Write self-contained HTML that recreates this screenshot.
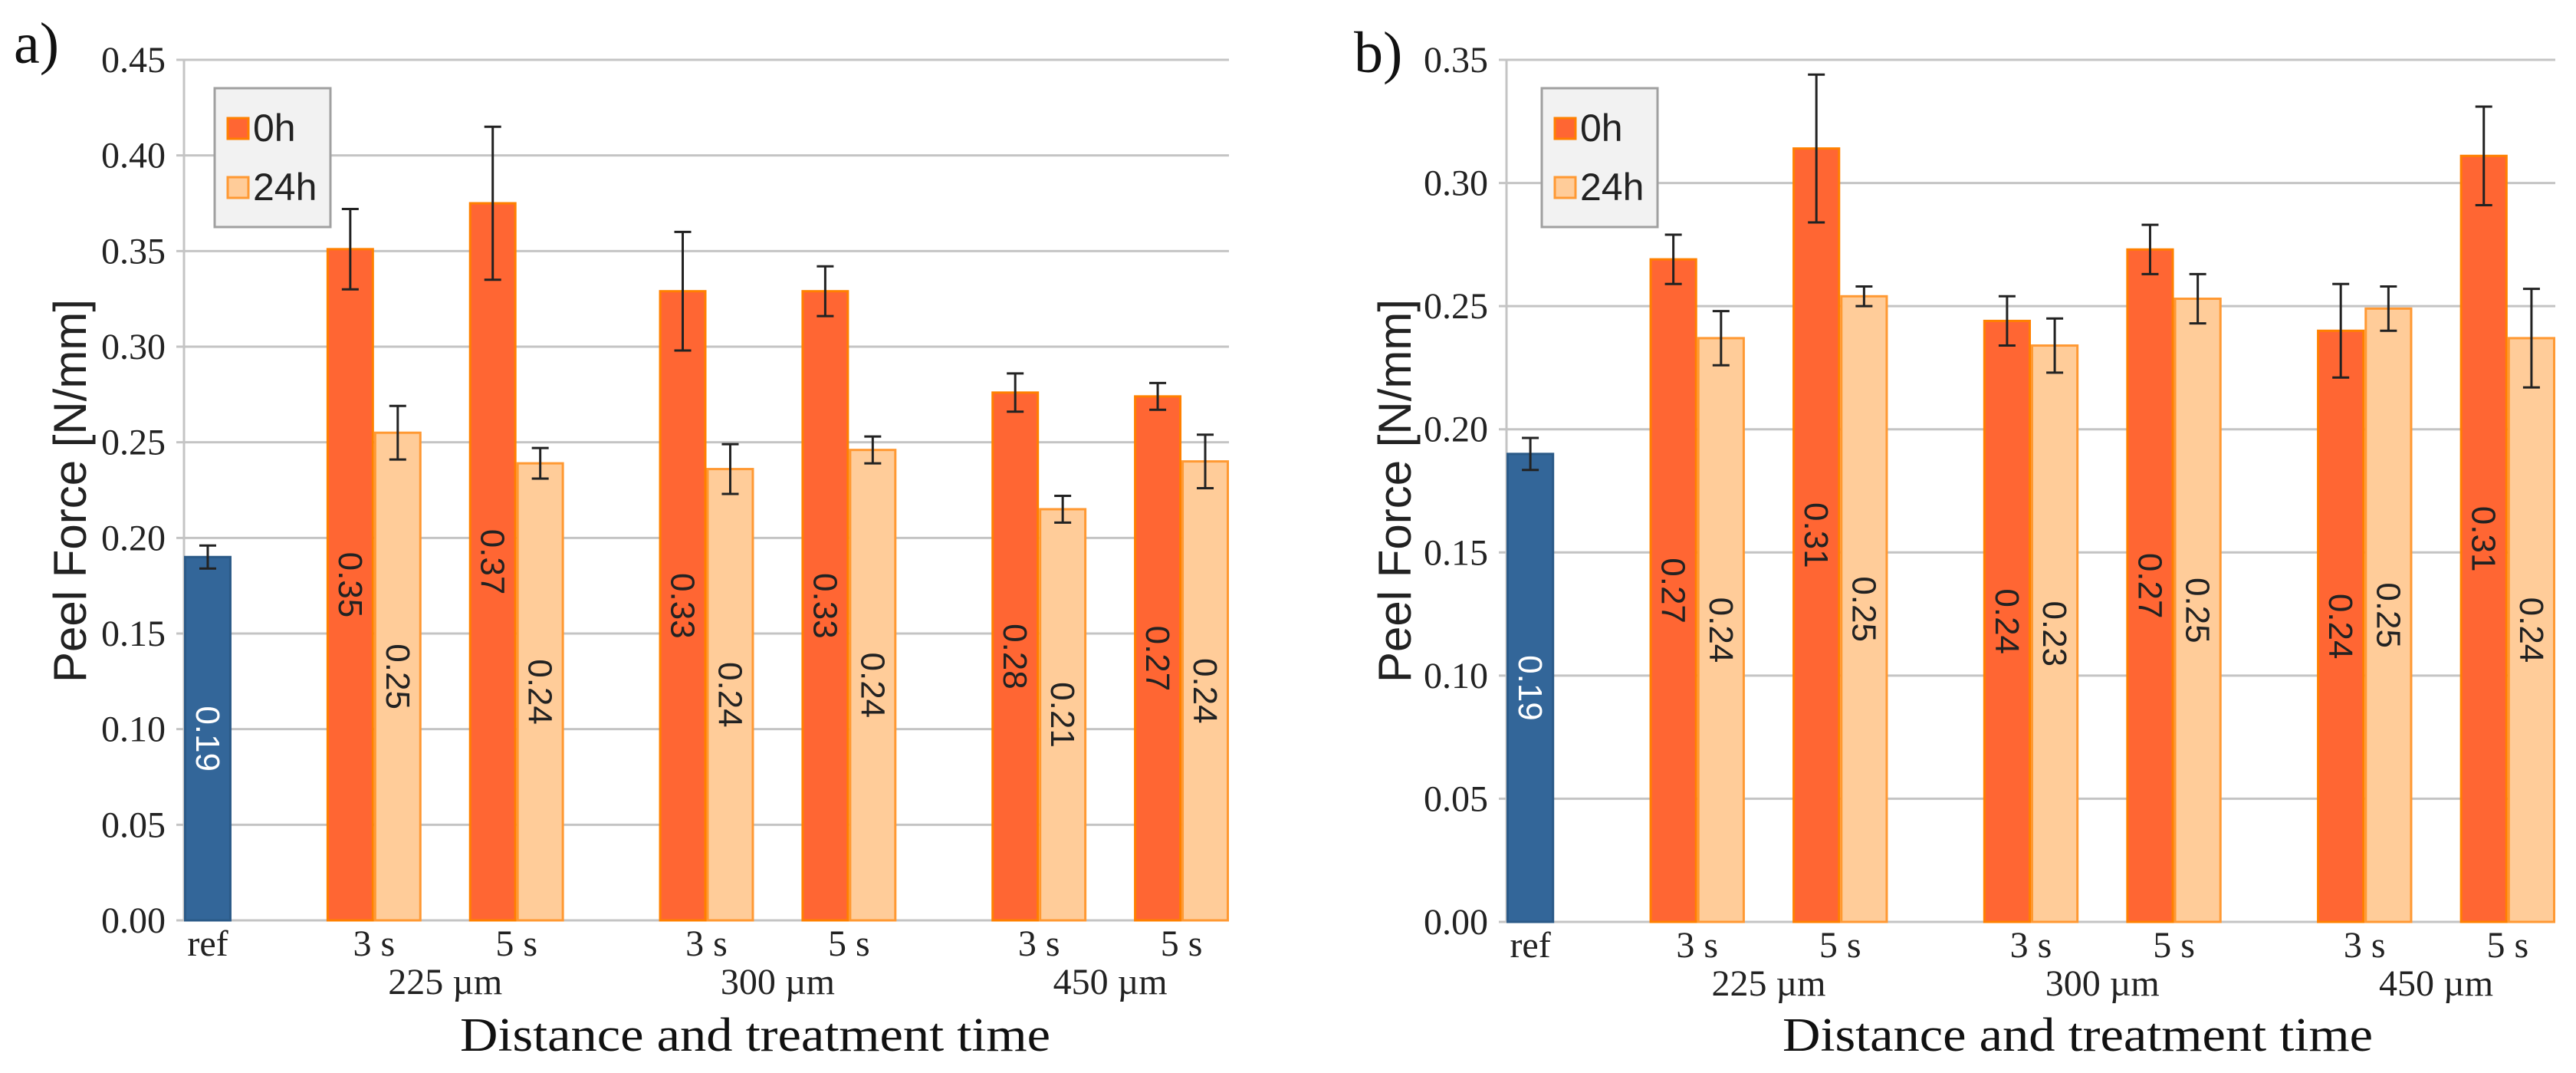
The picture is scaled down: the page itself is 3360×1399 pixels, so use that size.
<!DOCTYPE html>
<html><head><meta charset="utf-8"><style>
html,body{margin:0;padding:0;background:#fff;}
svg{display:block;}
.tick{font-family:"Liberation Serif",serif;font-size:48px;fill:#222;}
.sans{font-family:"Liberation Sans",sans-serif;}
</style></head><body>
<svg id="fig" width="3360" height="1399" viewBox="0 0 3360 1399" xmlns="http://www.w3.org/2000/svg">
<text x="18" y="82" font-family="Liberation Serif,serif" font-size="76" fill="#111">a)</text>
<text x="1766" y="94" font-family="Liberation Serif,serif" font-size="76" fill="#111">b)</text>
</svg>
<script>
const categories = ["ref","225-3s","225-5s","300-3s","300-5s","450-3s","450-5s"];
const tickLabels = ["ref","3 s","5 s","3 s","5 s","3 s","5 s"];
const groupLabels = ["225 µm","300 µm","450 µm"];
const aRef = [0.19], aRefErr = [0.006];
const a0h = [0.351,0.375,0.329,0.329,0.276,0.274];
const a0hErr = [0.021,0.040,0.031,0.013,0.010,0.007];
const a24h = [0.255,0.239,0.236,0.246,0.215,0.240];
const a24hErr = [0.014,0.008,0.013,0.007,0.007,0.014];
const aLabels0h = ["0.35","0.37","0.33","0.33","0.28","0.27"];
const aLabels24h = ["0.25","0.24","0.24","0.24","0.21","0.24"];
const aTicks = ["0.00","0.05","0.10","0.15","0.20","0.25","0.30","0.35","0.40","0.45"];
const bRef = [0.19], bRefErr = [0.0065];
const b0h = [0.269,0.314,0.244,0.273,0.240,0.311];
const b0hErr = [0.010,0.030,0.010,0.010,0.019,0.020];
const b24h = [0.237,0.254,0.234,0.253,0.249,0.237];
const b24hErr = [0.011,0.004,0.011,0.010,0.009,0.020];
const bLabels0h = ["0.27","0.31","0.24","0.27","0.24","0.31"];
const bLabels24h = ["0.24","0.25","0.23","0.25","0.25","0.24"];
const bTicks = ["0.00","0.05","0.10","0.15","0.20","0.25","0.30","0.35"];

const NS="http://www.w3.org/2000/svg";
const svg=document.getElementById('fig');
function mk(tag,attrs,parent){const e=document.createElementNS(NS,tag);for(const k in attrs)e.setAttribute(k,attrs[k]);(parent||svg).appendChild(e);return e;}

function chart(o){
  const g=mk('g',{});
  
  
  const x0=o.x0,x1=o.x1,yb=o.yb,yt=o.yt,max=o.max;
  const slot=(x1-x0)/22;
  const Y=v=>yb-(v/max)*(yb-yt);
  const X=s=>x0+s*slot;
  const nt=o.ticks.length;
  for(let i=0;i<nt;i++){
    const v=parseFloat(o.ticks[i]);
    const l=mk('line',{x1:x0-10,x2:x1,y1:Y(v),y2:Y(v),stroke:'#c4c4c4','stroke-width':3},g);
    
    
    const t=mk('text',{x:x0-24,y:Y(v)+16,'text-anchor':'end',class:'tick'},g);
    t.textContent=o.ticks[i];
    
    
  }
  const ax=mk('line',{x1:x0,x2:x0,y1:yt,y2:yb,stroke:'#c4c4c4','stroke-width':3},g);
  
  
  const slots0h=[3,6,10,13,17,20];
  function bar(s,v,err,fill,stroke,label,lc,nm){
    const b=mk('rect',{x:X(s)+1.5,y:Y(v),width:slot-3,height:yb-Y(v),fill:fill,stroke:stroke,'stroke-width':3},g);
    
    
    const cx=X(s)+slot/2;
    const e=mk('path',{d:`M${cx},${Y(v+err)}V${Y(v-err)}M${cx-11},${Y(v+err)}H${cx+11}M${cx-11},${Y(v-err)}H${cx+11}`,stroke:'#222','stroke-width':3,fill:'none'},g);
    
    
    const my=Y(v/2);
    const t=mk('text',{x:0,y:0,transform:`translate(${cx-15},${my}) rotate(90)`,'text-anchor':'middle',class:'sans','font-size':44,fill:lc},g);
    t.textContent=label;
    
    
  }
  bar(0,o.ref[0],o.refErr[0],'#336699','#2b5a88',o.ref[0].toFixed(2),'#fff','bar-ref');
  for(let i=0;i<6;i++){
    bar(slots0h[i],o.v0[i],o.e0[i],'#ff6633','#ff8000',o.l0[i],'#222','bar-0h-'+categories[i+1]);
    bar(slots0h[i]+1,o.v24[i],o.e24[i],'#ffcc99','#ff9933',o.l24[i],'#222','bar-24h-'+categories[i+1]);
  }
  const tl=[0.5].concat(slots0h.map(s=>s+1));
  for(let i=0;i<tl.length;i++){
    const t=mk('text',{x:X(tl[i]),y:yb+46,'text-anchor':'middle',class:'tick'},g);
    t.textContent=tickLabels[i];
    
    
  }
  for(let i=0;i<3;i++){
    const t=mk('text',{x:X(slots0h[i*2]+2.5),y:yb+96,'text-anchor':'middle',class:'tick'},g);
    t.textContent=groupLabels[i];
    
    
  }
  const xt=mk('text',{x:o.titleX,y:1370,'text-anchor':'middle','font-family':'Liberation Serif,serif','font-size':62,fill:'#111',textLength:770,lengthAdjust:'spacingAndGlyphs'},g);
  xt.textContent='Distance and treatment time';
  
  
  const yt2=mk('text',{x:0,y:0,transform:`translate(${o.yTitleX},640) rotate(-90)`,'text-anchor':'middle',class:'sans','font-size':60,fill:'#222'},g);
  yt2.textContent='Peel Force [N/mm]';
  
  
  const lg=mk('g',{},g);
  
  
  const lx=o.legX;
  mk('rect',{x:lx,y:115,width:151,height:181,fill:'#f2f2f2',stroke:'#a0a0a0','stroke-width':3},lg);
  const e1=mk('g',{},lg);
  
  
  mk('rect',{x:lx+17,y:154,width:27,height:27,fill:'#ff6633',stroke:'#ff8000','stroke-width':3},e1);
  const t1=mk('text',{x:lx+50,y:184,class:'sans','font-size':50,fill:'#222'},e1);t1.textContent='0h';
  const e2=mk('g',{},lg);
  
  
  mk('rect',{x:lx+17,y:231,width:27,height:27,fill:'#ffcc99',stroke:'#ff9933','stroke-width':3},e2);
  const t2=mk('text',{x:lx+50,y:261,class:'sans','font-size':50,fill:'#222'},e2);t2.textContent='24h';
}
chart({name:'chart-a',x0:240,x1:1603,yb:1200,yt:78,max:0.45,ticks:aTicks,ref:aRef,refErr:aRefErr,v0:a0h,e0:a0hErr,v24:a24h,e24:a24hErr,l0:aLabels0h,l24:aLabels24h,legX:280,titleX:985,yTitleX:112});
chart({name:'chart-b',x0:1965,x1:3333,yb:1202,yt:78,max:0.35,ticks:bTicks,ref:bRef,refErr:bRefErr,v0:b0h,e0:b0hErr,v24:b24h,e24:b24hErr,l0:bLabels0h,l24:bLabels24h,legX:2011,titleX:2710,yTitleX:1840});
</script>
</body></html>
